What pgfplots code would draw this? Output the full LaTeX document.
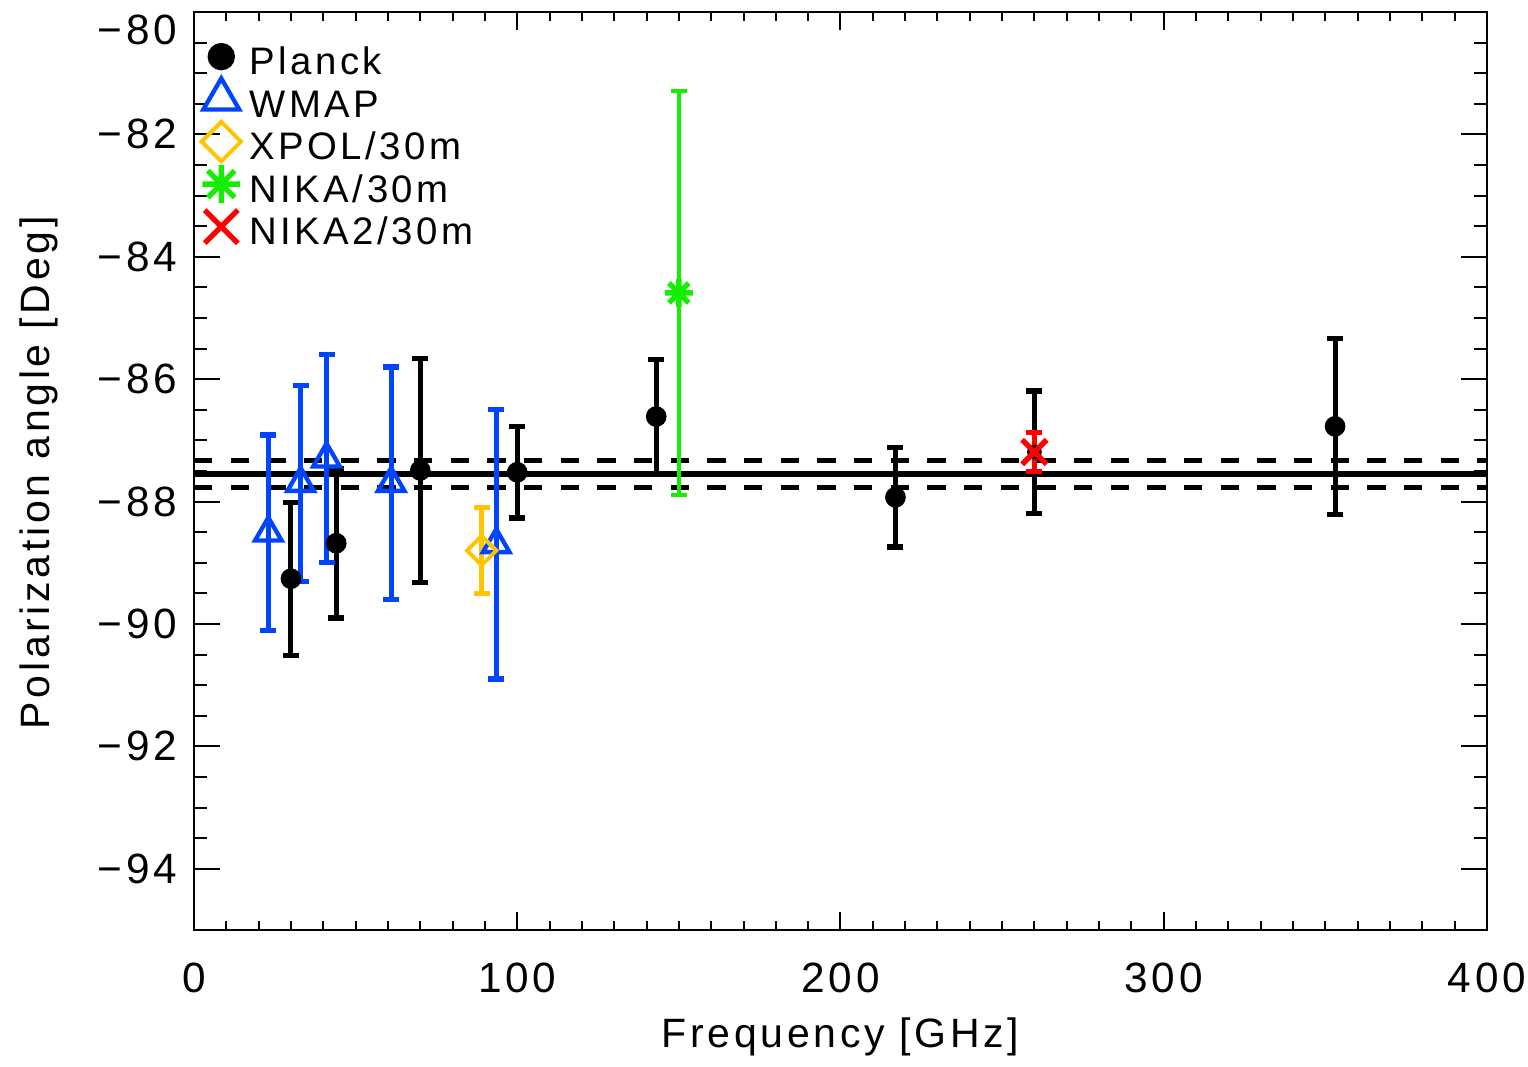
\documentclass[border=0pt]{standalone}
\usepackage{fontspec}
\setmainfont{Liberation Sans}[LetterSpace=9]
\usepackage{pgfplots}
\pgfplotsset{compat=1.18}
\definecolor{wmapblue}{RGB}{0,68,255}
\definecolor{xpolyel}{RGB}{255,196,0}
\definecolor{nikagreen}{RGB}{20,238,0}
\definecolor{nikared}{RGB}{255,0,0}
\pgfdeclareplotmark{ast8}{%
  \pgfpathmoveto{\pgfqpoint{0pt}{\pgfplotmarksize}}\pgfpathlineto{\pgfqpoint{0pt}{-\pgfplotmarksize}}%
  \pgfpathmoveto{\pgfqpoint{\pgfplotmarksize}{0pt}}\pgfpathlineto{\pgfqpoint{-\pgfplotmarksize}{0pt}}%
  \pgfpathmoveto{\pgfqpoint{0.707\pgfplotmarksize}{0.707\pgfplotmarksize}}\pgfpathlineto{\pgfqpoint{-0.707\pgfplotmarksize}{-0.707\pgfplotmarksize}}%
  \pgfpathmoveto{\pgfqpoint{-0.707\pgfplotmarksize}{0.707\pgfplotmarksize}}\pgfpathlineto{\pgfqpoint{0.707\pgfplotmarksize}{-0.707\pgfplotmarksize}}%
  \pgfusepathqstroke}
\begin{document}
\begin{tikzpicture}
\path[use as bounding box] (-58.2pt,-40.8pt) rectangle (400.2pt,279pt);
\begin{axis}[
  at={(0pt,0pt)}, anchor=south west,
  scale only axis, width=387.9pt, height=275.4pt,
  xmin=0, xmax=400, ymin=-95, ymax=-80,
  xtick={0,100,200,300,400},
  minor x tick num=9,
  ytick={-94,-92,-90,-88,-86,-84,-82,-80},
  yticklabels={−94,−92,−90,−88,−86,−84,−82,\raisebox{-5.2pt}[\height][0pt]{−80}},
  minor y tick num=3,
  major tick length=7.8pt, minor tick length=3.9pt,
  xtick style={/pgfplots/major tick length=5.4pt,/pgfplots/minor tick length=2.7pt},
  tick style={line width=0.6pt, black},
  axis line style={line width=0.6pt},
  /pgf/number format/assume math mode=true,
  ticklabel style={font=\fontsize{12.7}{15}\selectfont},
  xticklabel style={yshift=-6.3pt},
  yticklabel style={xshift=-1.5pt},
  xlabel={Frequency [GHz]}, ylabel={Polarization angle [Deg]},
  every axis x label/.style={at={(axis description cs:0.5,-0.1275)}, anchor=base, font=\fontsize{12.3}{14}\selectfont},
  every axis y label/.style={at={(axis description cs:-0.1114,0.498)}, rotate=90, anchor=base, font=\fontsize{12.3}{14}\selectfont},
  legend style={at={(axis description cs:0.0206,0.9633)}, anchor=north west, draw=none, fill=none, inner sep=0pt, column sep=8.5pt, row sep=0pt, font=\fontsize{11.5}{13}\selectfont, nodes={inner sep=0pt, text height=8.5pt, text depth=4.25pt}},
  legend cell align=left,
  legend image code/.code={\draw[#1, /tikz/every mark/.append style={scale=1.35}, overlay] plot coordinates {(0pt,3.3pt)};},
]
\addplot[black, line width=2pt, forget plot] coordinates {(0,-87.55) (400,-87.55)};
\addplot[black, line width=1.5pt, dash pattern=on 5.5pt off 5.5pt, forget plot] coordinates {(0,-87.33) (400,-87.33)};
\addplot[black, line width=1.5pt, dash pattern=on 5.5pt off 5.5pt, forget plot] coordinates {(0,-87.77) (400,-87.77)};

\addplot[black, only marks, mark=*, mark size=2.9pt,
  error bars/.cd, y dir=both, y explicit, error mark=-,
  error bar style={line width=1.5pt, black}, error mark options={rotate=90, line width=1.6pt, mark size=2.4pt, black}]
  coordinates {
  (30,-89.26) +- (0,1.25)
  (44,-88.68) +- (0,1.22)
  (70,-87.49) +- (0,1.83)
  (100,-87.52) +- (0,0.75)
  (143,-86.61) +- (0,0.93)
  (217,-87.93) +- (0,0.81)
  (353,-86.77) +- (0,1.44)
  };
\addlegendentry{Planck}

\addplot[wmapblue, only marks, mark=triangle, mark size=4.6pt, mark options={line width=1.3pt},
  error bars/.cd, y dir=both, y explicit, error mark=-,
  error bar style={line width=1.5pt, wmapblue}, error mark options={rotate=90, line width=1.6pt, mark size=2.4pt, wmapblue}]
  coordinates {
  (23,-88.51) +- (0,1.6)
  (33,-87.70) +- (0,1.6)
  (41,-87.30) +- (0,1.7)
  (61,-87.70) +- (0,1.9)
  (93.5,-88.70) +- (0,2.2)
  };
\addlegendentry{WMAP}

\addplot[xpolyel, only marks, mark=square, mark size=3.1pt, mark options={rotate=45, line width=1.2pt},
  error bars/.cd, y dir=both, y explicit, error mark=-,
  error bar style={line width=1.5pt, xpolyel}, error mark options={rotate=90, line width=1.6pt, mark size=2.4pt, xpolyel}]
  coordinates {
  (89,-88.80) +- (0,0.70)
  };
\addlegendentry{XPOL/30m}

\addplot[nikagreen, only marks, mark=ast8, mark size=4.2pt, mark options={line width=1.6pt},
  error bars/.cd, y dir=both, y explicit, error mark=-,
  error bar style={line width=1.3pt, nikagreen}, error mark options={rotate=90, line width=1.1pt, mark size=2.5pt, nikagreen}]
  coordinates {
  (150,-84.59) +- (0,3.30)
  };
\addlegendentry{NIKA/30m}

\addplot[black, only marks, mark=none, forget plot,
  error bars/.cd, y dir=both, y explicit, error mark=-,
  error bar style={line width=1.5pt, black}, error mark options={rotate=90, line width=1.6pt, mark size=2.4pt, black}]
  coordinates {
  (260,-87.19) +- (0,1.0)
  };

\addplot[nikared, only marks, mark=x, mark size=5.2pt, mark options={line width=1.6pt},
  error bars/.cd, y dir=both, y explicit, error mark=-,
  error bar style={line width=1.5pt, nikared}, error mark options={rotate=90, line width=1.6pt, mark size=2.4pt, nikared}]
  coordinates {
  (260,-87.19) +- (0,0.32)
  };
\addlegendentry{NIKA2/30m}
\end{axis}
\end{tikzpicture}
\end{document}
